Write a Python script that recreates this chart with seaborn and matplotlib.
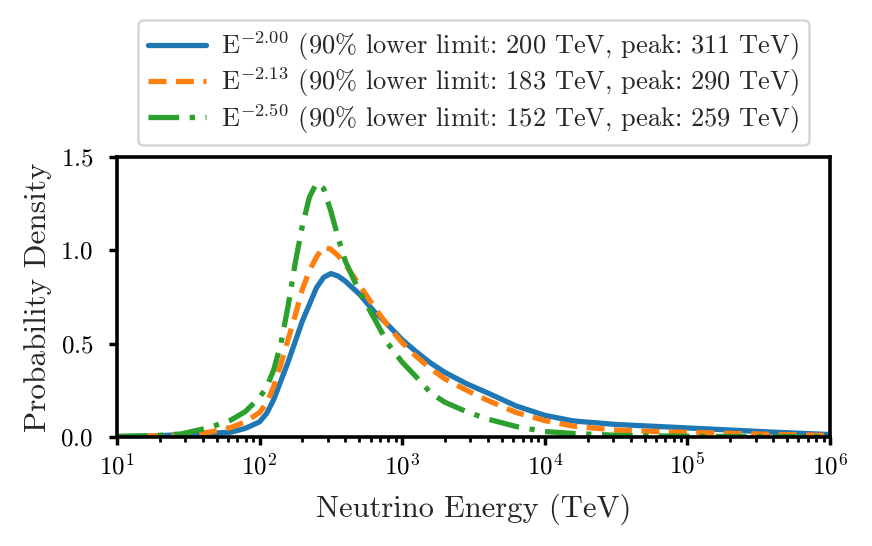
import matplotlib
matplotlib.use("Agg")
import matplotlib.pyplot as plt
import seaborn as sns
import pandas as pd
import numpy as np

# log10 of neutrino energy (TeV) at which the curves were read
log_energy = [1.0, 1.25, 1.45, 1.65, 1.8, 1.9, 2.0, 2.05, 2.1, 2.15, 2.2, 2.25,
              2.3, 2.35, 2.4, 2.45, 2.5, 2.55, 2.6, 2.65, 2.7, 2.8, 2.9, 3.0,
              3.1, 3.2, 3.3, 3.45, 3.6, 3.8, 4.0, 4.2, 4.5, 4.8, 5.2, 5.6, 6.0]

density_200 = [0.001, 0.004, 0.012, 0.018, 0.025, 0.045, 0.08, 0.125, 0.2, 0.3,
               0.4, 0.51, 0.62, 0.71, 0.8, 0.855, 0.875, 0.862, 0.835, 0.8,
               0.765, 0.675, 0.6, 0.52, 0.455, 0.395, 0.345, 0.285, 0.235, 0.165,
               0.115, 0.085, 0.066, 0.055, 0.04, 0.025, 0.012]
density_213 = [0.001, 0.004, 0.01, 0.025, 0.05, 0.08, 0.13, 0.18, 0.27, 0.39,
               0.52, 0.65, 0.79, 0.89, 0.965, 1.018, 1.005, 0.972, 0.925, 0.87,
               0.815, 0.7, 0.595, 0.505, 0.43, 0.365, 0.31, 0.25, 0.195, 0.13,
               0.087, 0.057, 0.036, 0.028, 0.02, 0.013, 0.007]
density_250 = [0.002, 0.006, 0.015, 0.05, 0.09, 0.135, 0.21, 0.266, 0.36, 0.5,
               0.7, 0.93, 1.13, 1.285, 1.36, 1.33, 1.21, 1.07, 0.945, 0.86,
               0.78, 0.64, 0.5, 0.4, 0.32, 0.235, 0.185, 0.135, 0.095, 0.055,
               0.028, 0.018, 0.008, 0.004, 0.002, 0.001, 0.0]

labels = [
    r"E$^{-2.00}$ (90% lower limit: 200 TeV, peak: 311 TeV)",
    r"E$^{-2.13}$ (90% lower limit: 183 TeV, peak: 290 TeV)",
    r"E$^{-2.50}$ (90% lower limit: 152 TeV, peak: 259 TeV)",
]
colors = ["#1f77b4", "#ff7f0e", "#2ca02c"]
styles = ["-", (0, (3.4, 1.8)), (0, (5.8, 2.0, 1, 2.0))]

sns.set_style("ticks")
plt.rcParams["font.family"] = "serif"
plt.rcParams["font.serif"] = ["cmr10"]
plt.rcParams["mathtext.fontset"] = "cm"
plt.rcParams["axes.formatter.use_mathtext"] = True
plt.rcParams["axes.unicode_minus"] = False

energy = 10 ** np.array(log_energy)
df = pd.DataFrame({"energy": energy})

fig = plt.figure(figsize=(8.72, 5.46), dpi=100)
ax = fig.add_axes([0.134, 0.2, 0.818, 0.5125])

for dens, lab, col, ls in zip([density_200, density_213, density_250], labels, colors, styles):
    d = df.assign(density=dens)
    sns.lineplot(data=d, x="energy", y="density", ax=ax, color=col,
                 linewidth=3.8, label=lab)
    ax.lines[-1].set_linestyle(ls)

ax.set_xscale("log")
ax.set_xlim(1e1, 1e6)
ax.set_ylim(0, 1.5)
ax.set_yticks([0.0, 0.5, 1.0, 1.5])
ax.set_xlabel("Neutrino Energy (TeV)", fontsize=22, labelpad=10)
ax.set_ylabel("Probability Density", fontsize=22.5, labelpad=6)
ax.tick_params(axis="both", which="major", labelsize=18, width=2.5, length=6,
               colors="black", pad=6)
ax.tick_params(axis="y", which="major", pad=11)
ax.tick_params(axis="x", which="minor", width=2, length=3.5, colors="black")
for sp in ax.spines.values():
    sp.set_linewidth(2.6)
    sp.set_color("black")

leg = ax.legend(loc="lower center", bbox_to_anchor=(0.5, 1.043), fontsize=19,
                handlelength=2.2, frameon=True, fancybox=True, borderpad=0.35,
                labelspacing=0.1, handletextpad=0.6, borderaxespad=0)
leg.get_frame().set_edgecolor("#cccccc")
leg.get_frame().set_linewidth(1.8)

fig.savefig("out.png", dpi=100)
